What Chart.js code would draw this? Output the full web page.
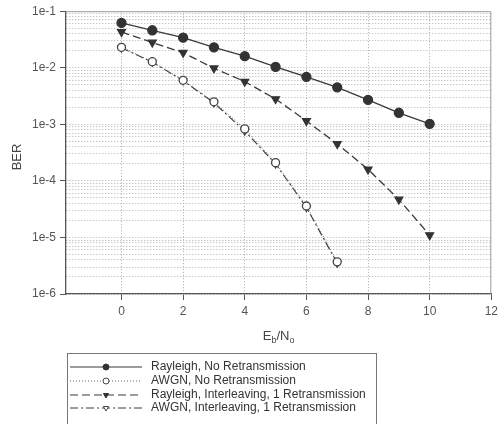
<!DOCTYPE html>
<html>
<head>
<meta charset="utf-8">
<script src="https://cdn.jsdelivr.net/npm/chart.js@4/dist/chart.umd.min.js"></script>
<style>
  body { margin: 0; background: #fff; }
  #wrap { width: 502px; height: 424px; }
</style>
</head>
<body>
<div id="wrap"><canvas id="ber"></canvas></div>
<script>
// Eb/No points
const ebnoRayleigh = [0, 1, 2, 3, 4, 5, 6, 7, 8, 9, 10];
const ebnoAwgn = [0, 1, 2, 3, 4, 5, 6, 7];

// BER values
const berRayleigh = [0.062, 0.046, 0.034, 0.023, 0.016, 0.0104, 0.0069, 0.0045, 0.0027, 0.0016, 0.00102];
const berAwgn = [0.023, 0.0128, 0.006, 0.0025, 0.00083, 0.00021, 3.6e-5, 3.7e-6];
const berRayleighIntl = [0.043, 0.028, 0.0185, 0.0098, 0.0057, 0.0028, 0.00115, 0.00045, 0.00016, 4.7e-5, 1.1e-5];
const berAwgnIntl = [0.0225, 0.0126, 0.0059, 0.0024, 0.00076, 0.0002, 3.4e-5, 3.5e-6];

// axes
const xTicks = [0, 2, 4, 6, 8, 10, 12];
const decades = [1e-6, 1e-5, 1e-4, 1e-3, 1e-2, 1e-1];
const decadeLabels = ['1e-6', '1e-5', '1e-4', '1e-3', '1e-2', '1e-1'];
const minorSteps = [1, 2, 3, 4, 5, 6, 7, 8, 9];

const seriesNames = [
    'Rayleigh, No Retransmission',
    'AWGN, No Retransmission',
    'Rayleigh, Interleaving, 1 Retransmission',
    'AWGN, Interleaving, 1 Retransmission'
];

const lineColor = '#3a3a3a';
const pts = (xs, ys) => xs.map((x, i) => ({ x: x, y: ys[i] }));

function isDecade(v) {
    return decades.some(d => Math.abs(v - d) / d < 1e-6);
}

// frame, axis titles and legend
const extras = {
    id: 'extras',
    afterDraw(chart) {
        const ctx = chart.ctx;
        const a = chart.chartArea;
        ctx.save();
        // top / right frame
        ctx.strokeStyle = '#999';
        ctx.lineWidth = 1;
        ctx.beginPath();
        ctx.moveTo(a.left, a.top + 0.5);
        ctx.lineTo(a.right - 0.5, a.top + 0.5);
        ctx.lineTo(a.right - 0.5, a.bottom);
        ctx.stroke();

        ctx.fillStyle = '#444';
        // y title
        ctx.font = '13px "Liberation Sans", Arial, sans-serif';
        ctx.textAlign = 'center';
        ctx.textBaseline = 'middle';
        ctx.save();
        ctx.translate(17, 157);
        ctx.rotate(-Math.PI / 2);
        ctx.fillText('BER', 0, 0);
        ctx.restore();

        // x title E_b/N_o
        const cx = (a.left + a.right) / 2;
        const y0 = 340;
        const big = '13px "Liberation Sans", Arial, sans-serif';
        const small = '9px "Liberation Sans", Arial, sans-serif';
        const parts = [['E', big, 0], ['b', small, 3], ['/N', big, 0], ['o', small, 3]];
        let w = 0;
        parts.forEach(p => { ctx.font = p[1]; w += ctx.measureText(p[0]).width; });
        let x = cx - w / 2;
        ctx.textAlign = 'left';
        ctx.textBaseline = 'alphabetic';
        parts.forEach(p => {
            ctx.font = p[1];
            ctx.fillText(p[0], x, y0 + p[2]);
            x += ctx.measureText(p[0]).width;
        });

        // legend
        ctx.strokeStyle = '#777';
        ctx.strokeRect(67.5, 353.5, 309, 80);
        const rows = [367, 381, 395, 408];
        chart.data.datasets.forEach((ds, i) => {
            const y = rows[i];
            ctx.save();
            ctx.strokeStyle = ds.borderColor;
            ctx.lineWidth = 1;
            ctx.setLineDash(ds.borderDash || []);
            ctx.beginPath();
            ctx.moveTo(70, y);
            ctx.lineTo(142, y);
            ctx.stroke();
            ctx.setLineDash([]);
            ctx.fillStyle = ds.pointBackgroundColor;
            ctx.strokeStyle = ds.pointBorderColor;
            Chart.helpers.drawPoint(ctx, {
                pointStyle: ds.pointStyle,
                rotation: ds.pointRotation || 0,
                radius: 3,
                borderWidth: 1.2
            }, 106, y);
            ctx.restore();
            ctx.fillStyle = '#333';
            ctx.font = '12px "Liberation Sans", Arial, sans-serif';
            ctx.textAlign = 'left';
            ctx.textBaseline = 'middle';
            ctx.fillText(seriesNames[i], 151, y);
        });
        ctx.restore();
    }
};

new Chart(document.getElementById('ber'), {
    type: 'line',
    data: {
        datasets: [{
            label: seriesNames[0],
            data: pts(ebnoRayleigh, berRayleigh),
            borderColor: lineColor,
            borderWidth: 1.3,
            pointStyle: 'circle',
            pointRadius: 4.5,
            pointBackgroundColor: '#333',
            pointBorderColor: '#333'
        }, {
            label: seriesNames[1],
            data: pts(ebnoAwgn, berAwgn),
            borderColor: '#666',
            borderWidth: 1,
            borderDash: [1, 2],
            pointStyle: 'circle',
            pointRadius: 4,
            pointBorderWidth: 1.3,
            pointBackgroundColor: '#fff',
            pointBorderColor: '#444'
        }, {
            label: seriesNames[2],
            data: pts(ebnoRayleigh, berRayleighIntl),
            borderColor: lineColor,
            borderWidth: 1.3,
            borderDash: [8, 4],
            pointStyle: 'triangle',
            pointRotation: 180,
            pointRadius: 4.5,
            pointBackgroundColor: '#333',
            pointBorderColor: '#333'
        }, {
            label: seriesNames[3],
            data: pts(ebnoAwgn, berAwgnIntl),
            borderColor: lineColor,
            borderWidth: 1.1,
            borderDash: [8, 3, 2, 3],
            pointStyle: 'triangle',
            pointRotation: 180,
            pointRadius: 4,
            pointBorderWidth: 1.3,
            pointBackgroundColor: '#fff',
            pointBorderColor: '#444'
        }]
    },
    options: {
        responsive: true,
        maintainAspectRatio: false,
        animation: false,
        layout: { padding: { left: 0, top: 10, right: 7, bottom: 0 } },
        plugins: {
            legend: { display: false },
            tooltip: { enabled: false }
        },
        scales: {
            x: {
                type: 'linear',
                min: -1.8,
                max: 12,
                afterBuildTicks: s => { s.ticks = xTicks.map(v => ({ value: v })); },
                afterFit: s => { s.height = 130; },
                ticks: {
                    color: '#555',
                    font: { family: '"Liberation Sans", Arial, sans-serif', size: 12 },
                    padding: 4,
                    maxRotation: 0
                },
                grid: {
                    color: ctx => (ctx.tick && ctx.tick.value === 12) ? 'rgba(0,0,0,0)' : '#aaa',
                    tickColor: '#555',
                    tickLength: 6,
                    lineWidth: 1
                },
                border: { color: '#555', width: 1.3, dash: [1, 2] }
            },
            y: {
                type: 'logarithmic',
                min: 1e-6,
                max: 1e-1,
                afterBuildTicks: s => {
                    const t = [];
                    decades.forEach(d => {
                        minorSteps.forEach(m => {
                            const v = d * m;
                            if (v <= 1e-1 * 1.0001) t.push({ value: v });
                        });
                    });
                    s.ticks = t;
                },
                afterFit: s => { s.width = 66; },
                ticks: {
                    color: '#555',
                    font: { family: '"Liberation Sans", Arial, sans-serif', size: 12 },
                    padding: 4,
                    autoSkip: false,
                    callback: v => {
                        const k = decades.findIndex(d => Math.abs(v - d) / d < 1e-6);
                        return k >= 0 ? decadeLabels[k] : '';
                    }
                },
                grid: {
                    color: ctx => (ctx.tick && Math.abs(ctx.tick.value - 1e-1) < 1e-9) ? 'rgba(0,0,0,0)' : '#b0b0b0',
                    tickColor: ctx => (ctx.tick && isDecade(ctx.tick.value)) ? '#555' : 'rgba(0,0,0,0)',
                    tickLength: 6,
                    lineWidth: 1
                },
                border: { color: '#555', width: 1.3, dash: [1, 2] }
            }
        }
    },
    plugins: [extras]
});
</script>
</body>
</html>
